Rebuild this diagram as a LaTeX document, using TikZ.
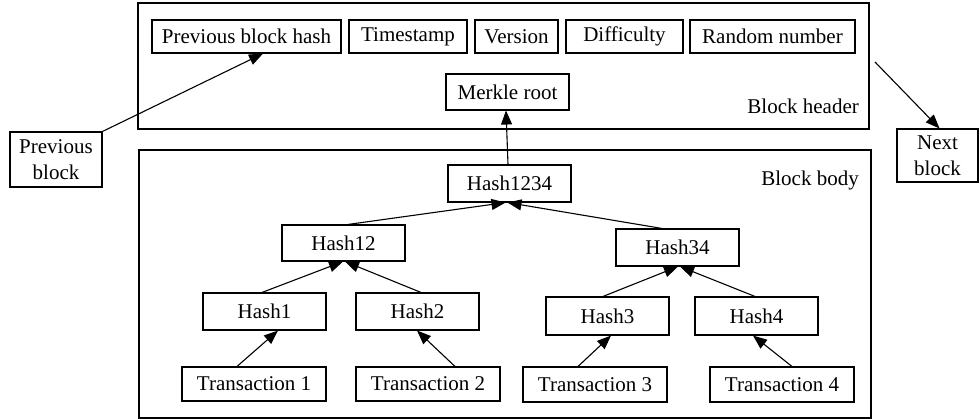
\documentclass[tikz,border=0pt]{standalone}
\usepackage{fontspec}
\setmainfont{Liberation Serif}
\usetikzlibrary{arrows.meta}
\begin{document}
\begin{tikzpicture}[x=1pt,y=-1pt,
  every node/.style={font=\fontsize{21}{26}\selectfont, inner sep=0pt},
  box/.style={draw, line width=1.1pt, minimum height=#1, align=center},
  box/.default=36pt,
  frame/.style={draw, line width=1.1pt},
  link/.style={line width=1.1pt, -{Triangle[length=14pt,width=11pt]}}]
\useasboundingbox (0,0) rectangle (980,419);

% outer frames
\node[frame, minimum width=731pt, minimum height=126pt] (header) at (503.5,66) {};
\node[frame, minimum width=732pt, minimum height=268pt] (body) at (505,284) {};
\node[anchor=east] (hdrlabel) at (859,106) {Block header};
\node[anchor=east] (bodylabel) at (859,180) {Block body};

% header fields
\node[box=33pt, minimum width=189pt] (pbh) at (246.5,36.5) {Previous block hash};
\node[box=33pt, minimum width=118pt] (ts)  at (408,36.5) {Timestamp};
\node[box=33pt, minimum width=83pt]  (ver) at (516.5,36.5) {Version};
\node[box=33pt, minimum width=117pt] (dif) at (624.5,36.5) {Difficulty};
\node[box=33pt, minimum width=165pt] (rnd) at (772.5,36.5) {Random number};
\node[box=36pt, minimum width=123pt] (merkle) at (507.5,92) {Merkle root};

% neighbouring blocks
\node[box=55pt, minimum width=92pt] (prev) at (56,159.5) {Previous\\block};
\node[box=53pt, minimum width=81pt] (next) at (937.5,155.5) {Next\\block};
\coordinate (nexttail) at (875,62);

% Merkle tree
\node[box=37pt, minimum width=123pt] (h1234) at (509.5,183.5) {Hash1234};
\node[box=36pt, minimum width=123pt] (h12) at (343.5,243) {Hash12};
\node[box=37pt, minimum width=123pt] (h34) at (677.5,247.5) {Hash34};
\node[box=37pt, minimum width=123pt] (h1) at (264.5,311.5) {Hash1};
\node[box=37pt, minimum width=123pt] (h2) at (417.5,311.5) {Hash2};
\node[box=38pt, minimum width=123pt] (h3) at (607.5,316) {Hash3};
\node[box=38pt, minimum width=123pt] (h4) at (756.5,316) {Hash4};
\node[box=34pt, minimum width=144pt] (t1) at (254,384) {Transaction 1};
\node[box=34pt, minimum width=144pt] (t2) at (428,384) {Transaction 2};
\node[box=35pt, minimum width=144pt] (t3) at (595,384.5) {Transaction 3};
\node[box=35pt, minimum width=144pt] (t4) at (782,384.5) {Transaction 4};

% connectors
\draw[link] (prev.north east) -- ([xshift=16.5pt]pbh.south);
\draw[link] (nexttail) -- ([xshift=2pt]next.north);
\draw[link] ([xshift=-1.5pt]h1234.north) -- ([xshift=-1.5pt]merkle.south);
\draw[link] ([xshift=4.5pt]h12.north) -- ([xshift=-4pt]h1234.south);
\draw[link] ([xshift=-15.5pt]h34.north) -- ([xshift=-2pt]h1234.south);
\draw[link] ([xshift=-2.5pt]h1.north) -- ([xshift=-0.5pt]h12.south);
\draw[link] ([xshift=3.5pt]h2.north) -- ([xshift=1.5pt]h12.south);
\draw[link] ([xshift=-4.5pt]h3.north) -- ([xshift=0.5pt]h34.south);
\draw[link] ([xshift=-1.5pt]h4.north) -- ([xshift=2.5pt]h34.south);
\draw[link] ([xshift=-17pt]t1.north) -- ([xshift=13.5pt]h1.south);
\draw[link] ([xshift=27pt]t2.north) -- ([xshift=-0.5pt]h2.south);
\draw[link] ([xshift=-17pt]t3.north) -- ([xshift=3.5pt]h3.south);
\draw[link] ([xshift=10pt]t4.north) -- ([xshift=-3.5pt]h4.south);
\end{tikzpicture}
\end{document}
